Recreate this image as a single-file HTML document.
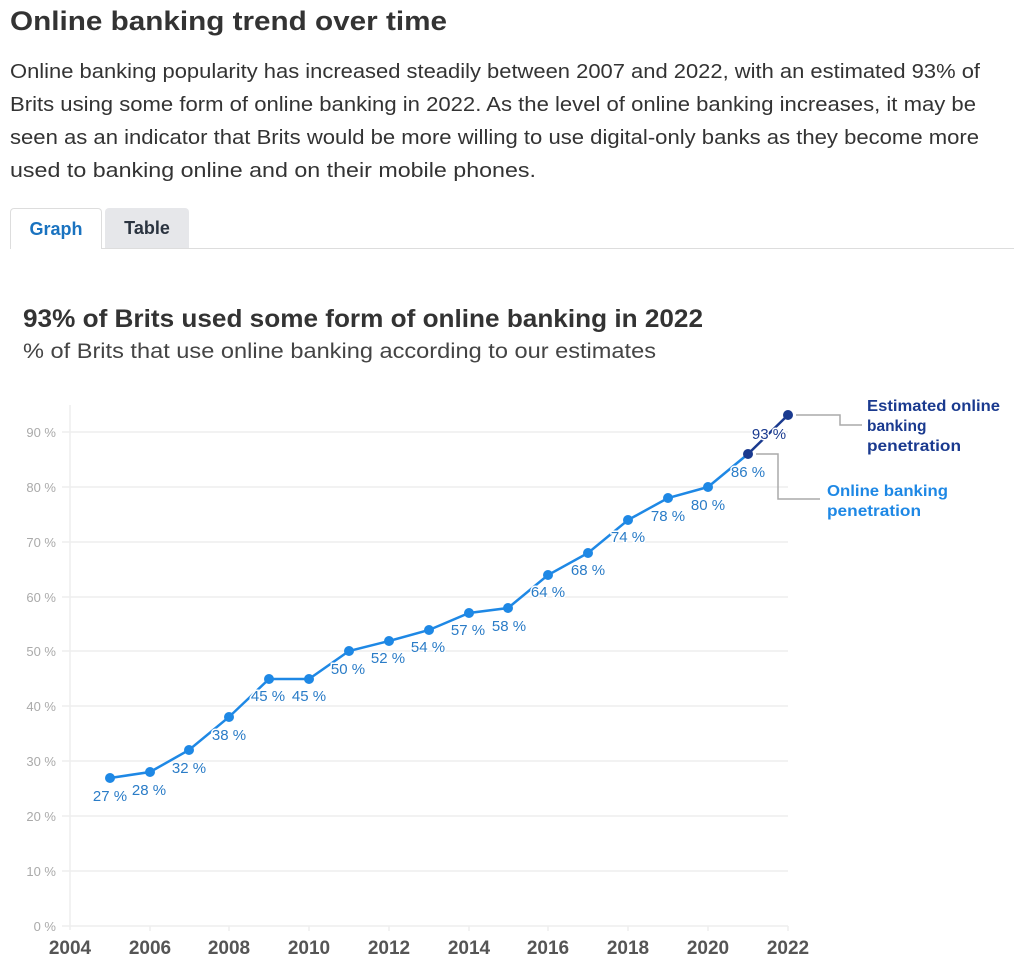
<!DOCTYPE html>
<html><head><meta charset="utf-8"><style>
body{margin:0;background:#fff;font-family:"Liberation Sans",sans-serif;color:#333;width:1024px;height:972px;overflow:hidden;position:relative}
.tab{position:absolute;top:208px;height:40px;font-size:18px;font-weight:bold;line-height:40px;text-align:center;border-radius:4px 4px 0 0}
</style></head><body>
<div class="tab" style="left:10px;width:90px;border:1px solid #ddd;border-bottom:none;color:#1a73c0;background:#fff;z-index:2">Graph</div>
<div class="tab" style="left:105px;width:84px;background:#e6e7ea;color:#2b3440">Table</div>
<div style="position:absolute;left:10px;right:10px;top:248px;border-top:1px solid #ddd"></div>
<svg width="1024" height="972" style="position:absolute;left:0;top:0" font-family="Liberation Sans, sans-serif">
<text x="10" y="30" font-size="27" font-weight="bold" fill="#333" textLength="437" lengthAdjust="spacingAndGlyphs">Online banking trend over time</text>
<g font-size="20" fill="#333">
<text x="10" y="78" textLength="970" lengthAdjust="spacingAndGlyphs">Online banking popularity has increased steadily between 2007 and 2022, with an estimated 93% of</text>
<text x="10" y="111" textLength="966" lengthAdjust="spacingAndGlyphs">Brits using some form of online banking in 2022. As the level of online banking increases, it may be</text>
<text x="10" y="144" textLength="969" lengthAdjust="spacingAndGlyphs">seen as an indicator that Brits would be more willing to use digital-only banks as they become more</text>
<text x="10" y="177" textLength="526" lengthAdjust="spacingAndGlyphs">used to banking online and on their mobile phones.</text>
</g>
<text x="23" y="327" font-size="25" font-weight="bold" fill="#333" textLength="680" lengthAdjust="spacingAndGlyphs">93% of Brits used some form of online banking in 2022</text>
<text x="23" y="358" font-size="21" fill="#444" textLength="633" lengthAdjust="spacingAndGlyphs">% of Brits that use online banking according to our estimates</text>
<g stroke="#eee" stroke-width="1.5">
<line x1="62" x2="788" y1="926" y2="926"/><line x1="62" x2="788" y1="871" y2="871"/><line x1="62" x2="788" y1="816" y2="816"/><line x1="62" x2="788" y1="761" y2="761"/><line x1="62" x2="788" y1="706" y2="706"/><line x1="62" x2="788" y1="651" y2="651"/><line x1="62" x2="788" y1="597" y2="597"/><line x1="62" x2="788" y1="542" y2="542"/><line x1="62" x2="788" y1="487" y2="487"/><line x1="62" x2="788" y1="432" y2="432"/>
<line x1="70" x2="70" y1="405" y2="930"/>
<line x1="150" x2="150" y1="926" y2="931"/><line x1="229" x2="229" y1="926" y2="931"/><line x1="309" x2="309" y1="926" y2="931"/><line x1="389" x2="389" y1="926" y2="931"/><line x1="469" x2="469" y1="926" y2="931"/><line x1="548" x2="548" y1="926" y2="931"/><line x1="628" x2="628" y1="926" y2="931"/><line x1="708" x2="708" y1="926" y2="931"/><line x1="788" x2="788" y1="926" y2="931"/>
</g>
<g font-size="13" fill="#aaa" text-anchor="end">
<text x="56" y="931">0 %</text><text x="56" y="876">10 %</text><text x="56" y="821">20 %</text><text x="56" y="766">30 %</text><text x="56" y="711">40 %</text><text x="56" y="656">50 %</text><text x="56" y="602">60 %</text><text x="56" y="547">70 %</text><text x="56" y="492">80 %</text><text x="56" y="437">90 %</text>
</g>
<g font-size="19" font-weight="bold" fill="#555" text-anchor="middle">
<text x="70" y="954">2004</text><text x="150" y="954">2006</text><text x="229" y="954">2008</text><text x="309" y="954">2010</text><text x="389" y="954">2012</text><text x="469" y="954">2014</text><text x="548" y="954">2016</text><text x="628" y="954">2018</text><text x="708" y="954">2020</text><text x="788" y="954">2022</text>
</g>
<polyline fill="none" stroke="#1e88e5" stroke-width="2.5" points="110,778 150,772 189,750 229,717 269,679 309,679 349,651 389,641 429,630 469,613 508,608 548,575 588,553 628,520 668,498 708,487"/>
<line x1="708" y1="487" x2="748" y2="454" stroke="#1e88e5" stroke-width="2.5"/>
<line x1="748" y1="454" x2="788" y2="415" stroke="#1a3a8f" stroke-width="2.5"/>
<g fill="#1e88e5">
<circle cx="110" cy="778" r="5"/><circle cx="150" cy="772" r="5"/><circle cx="189" cy="750" r="5"/><circle cx="229" cy="717" r="5"/><circle cx="269" cy="679" r="5"/><circle cx="309" cy="679" r="5"/><circle cx="349" cy="651" r="5"/><circle cx="389" cy="641" r="5"/><circle cx="429" cy="630" r="5"/><circle cx="469" cy="613" r="5"/><circle cx="508" cy="608" r="5"/><circle cx="548" cy="575" r="5"/><circle cx="588" cy="553" r="5"/><circle cx="628" cy="520" r="5"/><circle cx="668" cy="498" r="5"/><circle cx="708" cy="487" r="5"/>
</g>
<circle cx="748" cy="454" r="5" fill="#1a3a8f"/><circle cx="788" cy="415" r="5" fill="#1a3a8f"/>
<g font-size="15" fill="#2a7cc7" text-anchor="middle" stroke="#fff" stroke-width="3" paint-order="stroke">
<text x="110" y="801">27 %</text><text x="149" y="795">28 %</text><text x="189" y="773">32 %</text><text x="229" y="740">38 %</text><text x="268" y="701">45 %</text><text x="309" y="701">45 %</text><text x="348" y="674">50 %</text><text x="388" y="663">52 %</text><text x="428" y="652">54 %</text><text x="468" y="635">57 %</text><text x="509" y="631">58 %</text><text x="548" y="597">64 %</text><text x="588" y="575">68 %</text><text x="628" y="542">74 %</text><text x="668" y="521">78 %</text><text x="708" y="510">80 %</text><text x="748" y="477">86 %</text>
<text x="769" y="439" fill="#1a3a8f">93 %</text>
</g>
<polyline fill="none" stroke="#aaa" stroke-width="1.5" points="796,415 840,415 840,425 862,425"/>
<polyline fill="none" stroke="#aaa" stroke-width="1.5" points="756,454 778,454 778,499 820,499"/>
<g font-size="15.5" font-weight="bold" fill="#1a3a8f">
<text x="867" y="411" textLength="133" lengthAdjust="spacingAndGlyphs">Estimated online</text><text x="867" y="431">banking</text><text x="867" y="451" textLength="94" lengthAdjust="spacingAndGlyphs">penetration</text>
</g>
<g font-size="15.5" font-weight="bold" fill="#1e88e5">
<text x="827" y="496" textLength="121" lengthAdjust="spacingAndGlyphs">Online banking</text><text x="827" y="516" textLength="94" lengthAdjust="spacingAndGlyphs">penetration</text>
</g>
</svg>
</body></html>
